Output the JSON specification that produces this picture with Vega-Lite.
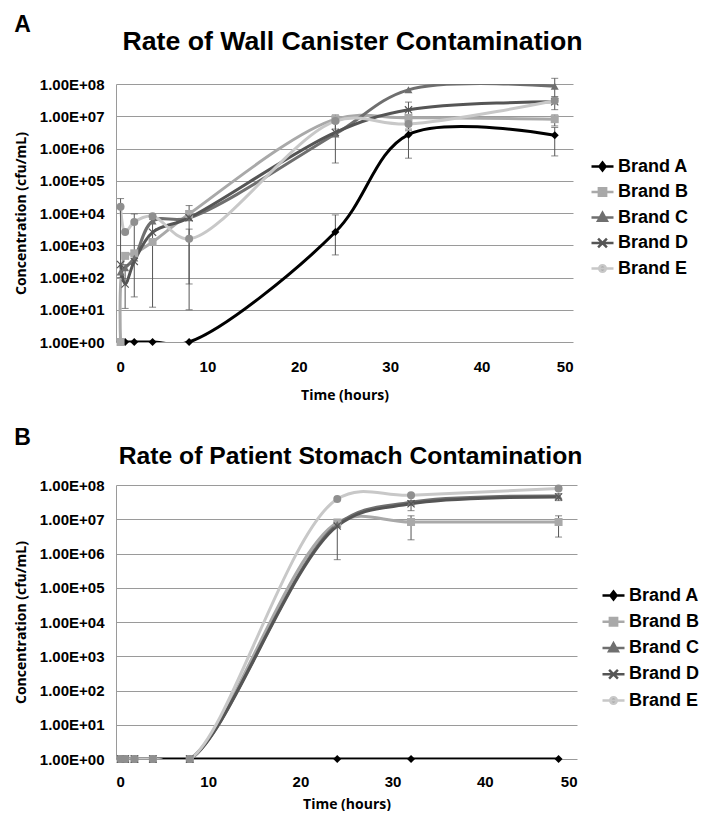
{
  "$schema": "https://vega.github.io/schema/vega-lite/v6.json",
  "background": "white",
  "padding": {"left": 14, "top": 14, "right": 0, "bottom": 0},
  "config": {
    "font": "Liberation Sans",
    "view": {"stroke": null},
    "axis": {
      "labelFont": "Liberation Sans",
      "labelFontWeight": "bold",
      "labelFontSize": 15,
      "labelColor": "#000000",
      "titleFont": "Open Sans",
      "titleFontWeight": "bold",
      "titleFontSize": 14,
      "titleColor": "#000000",
      "ticks": false
    },
    "legend": {
      "labelFont": "Liberation Sans",
      "labelFontWeight": "bold",
      "labelFontSize": 18,
      "labelColor": "#000000",
      "symbolSize": 484,
      "symbolStrokeWidth": 2.5,
      "labelOffset": 3,
      "padding": 0
    }
  },
  "datasets": {
    "wall": [
      {"brand": "Brand A", "t": 0.5, "v": 1},
      {"brand": "Brand A", "t": 1, "v": 1},
      {"brand": "Brand A", "t": 2, "v": 1},
      {"brand": "Brand A", "t": 4, "v": 1},
      {"brand": "Brand A", "t": 8, "v": 1},
      {"brand": "Brand A", "t": 24, "v": 2570, "lo": 501, "hi": 8710},
      {"brand": "Brand A", "t": 32, "v": 2690000, "lo": 501000, "hi": 3550000},
      {"brand": "Brand A", "t": 48, "v": 2570000, "lo": 589000, "hi": 4470000},
      {"brand": "Brand B", "t": 0.5, "v": 1},
      {"brand": "Brand B", "t": 1, "v": 468},
      {"brand": "Brand B", "t": 2, "v": 562},
      {"brand": "Brand B", "t": 4, "v": 1259, "lo": 12, "hi": 6310},
      {"brand": "Brand B", "t": 8, "v": 9333, "lo": 10, "hi": 17000},
      {"brand": "Brand B", "t": 24, "v": 8130000, "lo": 4000000, "hi": 11000000},
      {"brand": "Brand B", "t": 32, "v": 8910000},
      {"brand": "Brand B", "t": 48, "v": 8130000, "lo": 5000000, "hi": 11000000},
      {"brand": "Brand C", "t": 0.5, "v": 148},
      {"brand": "Brand C", "t": 1, "v": 200},
      {"brand": "Brand C", "t": 2, "v": 398},
      {"brand": "Brand C", "t": 4, "v": 5623},
      {"brand": "Brand C", "t": 8, "v": 7079},
      {"brand": "Brand C", "t": 24, "v": 2820000, "lo": 355000, "hi": 6300000},
      {"brand": "Brand C", "t": 32, "v": 66000000},
      {"brand": "Brand C", "t": 48, "v": 85000000, "lo": 40000000, "hi": 150000000},
      {"brand": "Brand D", "t": 0.5, "v": 251},
      {"brand": "Brand D", "t": 1, "v": 63, "lo": 11, "hi": 251},
      {"brand": "Brand D", "t": 2, "v": 316, "lo": 25, "hi": 9333},
      {"brand": "Brand D", "t": 4, "v": 2512},
      {"brand": "Brand D", "t": 8, "v": 7079},
      {"brand": "Brand D", "t": 24, "v": 3160000},
      {"brand": "Brand D", "t": 32, "v": 15800000, "lo": 4000000, "hi": 27500000},
      {"brand": "Brand D", "t": 48, "v": 28200000, "lo": 16000000, "hi": 40000000},
      {"brand": "Brand E", "t": 0.5, "v": 15488, "lo": 100, "hi": 28000},
      {"brand": "Brand E", "t": 1, "v": 2570},
      {"brand": "Brand E", "t": 2, "v": 5248},
      {"brand": "Brand E", "t": 4, "v": 7943},
      {"brand": "Brand E", "t": 8, "v": 1585, "lo": 63, "hi": 3162},
      {"brand": "Brand E", "t": 24, "v": 7080000},
      {"brand": "Brand E", "t": 32, "v": 5750000},
      {"brand": "Brand E", "t": 48, "v": 30200000}
    ],
    "stomach": [
      {"brand": "Brand A", "t": 0.5, "v": 1},
      {"brand": "Brand A", "t": 1, "v": 1},
      {"brand": "Brand A", "t": 2, "v": 1},
      {"brand": "Brand A", "t": 4, "v": 1},
      {"brand": "Brand A", "t": 8, "v": 1},
      {"brand": "Brand A", "t": 24, "v": 1},
      {"brand": "Brand A", "t": 32, "v": 1},
      {"brand": "Brand A", "t": 48, "v": 1},
      {"brand": "Brand B", "t": 0.5, "v": 1},
      {"brand": "Brand B", "t": 1, "v": 1},
      {"brand": "Brand B", "t": 2, "v": 1},
      {"brand": "Brand B", "t": 4, "v": 1},
      {"brand": "Brand B", "t": 8, "v": 1},
      {"brand": "Brand B", "t": 24, "v": 7940000},
      {"brand": "Brand B", "t": 32, "v": 8320000, "lo": 2510000, "hi": 12600000},
      {"brand": "Brand B", "t": 48, "v": 8320000, "lo": 3020000, "hi": 12600000},
      {"brand": "Brand C", "t": 0.5, "v": 1},
      {"brand": "Brand C", "t": 1, "v": 1},
      {"brand": "Brand C", "t": 2, "v": 1},
      {"brand": "Brand C", "t": 4, "v": 1},
      {"brand": "Brand C", "t": 8, "v": 1},
      {"brand": "Brand C", "t": 24, "v": 7080000},
      {"brand": "Brand C", "t": 32, "v": 31600000},
      {"brand": "Brand C", "t": 48, "v": 47900000},
      {"brand": "Brand D", "t": 0.5, "v": 1},
      {"brand": "Brand D", "t": 1, "v": 1},
      {"brand": "Brand D", "t": 2, "v": 1},
      {"brand": "Brand D", "t": 4, "v": 1},
      {"brand": "Brand D", "t": 8, "v": 1},
      {"brand": "Brand D", "t": 24, "v": 6310000, "lo": 660000, "hi": 10000000},
      {"brand": "Brand D", "t": 32, "v": 28200000, "lo": 17800000, "hi": 35000000},
      {"brand": "Brand D", "t": 48, "v": 44700000, "lo": 35000000, "hi": 56000000},
      {"brand": "Brand E", "t": 0.5, "v": 1},
      {"brand": "Brand E", "t": 1, "v": 1},
      {"brand": "Brand E", "t": 2, "v": 1},
      {"brand": "Brand E", "t": 4, "v": 1},
      {"brand": "Brand E", "t": 8, "v": 1},
      {"brand": "Brand E", "t": 24, "v": 38900000},
      {"brand": "Brand E", "t": 32, "v": 50100000},
      {"brand": "Brand E", "t": 48, "v": 79400000}
    ]
  },
  "spacing": 25,
  "resolve": {
    "scale": {"x": "independent", "y": "independent", "fill": "independent", "stroke": "independent", "shape": "independent"},
    "legend": {"fill": "independent", "stroke": "independent", "shape": "independent"}
  },
  "vconcat": [
    {
      "title": {"text": "A", "anchor": "start", "fontSize": 23, "fontWeight": "bold", "font": "Liberation Sans", "offset": -8},
      "resolve": {
        "scale": {"fill": "independent", "stroke": "independent", "shape": "independent"},
        "legend": {"fill": "independent", "stroke": "independent", "shape": "independent"}
      },
      "vconcat": [
        {
          "title": {"text": "Rate of Wall Canister Contamination", "anchor": "middle", "frame": "group", "fontSize": 26.7, "fontWeight": "bold", "font": "Liberation Sans", "offset": 21, "dx": 8},
          "width": 457,
          "height": 258,
          "data": {"name": "wall"},
          "resolve": {
            "scale": {"fill": "independent", "stroke": "independent", "shape": "independent"},
            "legend": {"fill": "independent", "stroke": "independent", "shape": "independent"}
          },
          "layer": [
            {
              "mark": {"type": "line", "interpolate": "catmull-rom", "strokeWidth": 3, "clip": true},
              "encoding": {
                "x": {"field": "t", "type": "quantitative", "title": "Time (hours)", "scale": {"domain": [0, 50], "nice": false},
                      "axis": {"values": [0, 10, 20, 30, 40, 50], "grid": false, "domain": false, "labelPadding": 17, "titlePadding": 14}},
                "y": {"field": "v", "type": "quantitative", "title": "Concentration (cfu/mL)", "scale": {"type": "log", "domain": [1, 100000000], "nice": false},
                      "axis": {"values": [1, 10, 100, 1000, 10000, 100000, 1000000, 10000000, 100000000],
                               "labelExpr": "'1.00E+0' + round(log(datum.value)/LN10)", "grid": true, "gridColor": "#9a9a9a", "domainColor": "#9a9a9a", "labelPadding": 12, "titlePadding": 11}},
                "stroke": {"field": "brand", "type": "nominal", "scale": {"domain": ["Brand A", "Brand B", "Brand C", "Brand D", "Brand E"], "range": ["#000000", "#a9a9a9", "#6f6f6f", "#555555", "#c8c8c8"]}, "legend": null},
                "order": {"field": "t", "type": "quantitative"}
              }
            },
            {
              "transform": [{"filter": "isValid(datum.lo)"}],
              "mark": {"type": "errorbar", "ticks": {"size": 7, "thickness": 1}, "color": "#555555", "thickness": 1},
              "encoding": {
                "x": {"field": "t", "type": "quantitative", "title": "Time (hours)"},
                "y": {"field": "lo", "type": "quantitative", "title": "Concentration (cfu/mL)"},
                "y2": {"field": "hi"}
              }
            },
            {
              "mark": {"type": "point", "filled": true, "size": 64, "opacity": 1, "strokeWidth": 0},
              "encoding": {
                "x": {"field": "t", "type": "quantitative", "title": "Time (hours)"},
                "y": {"field": "v", "type": "quantitative", "title": "Concentration (cfu/mL)"},
                "fill": {"field": "brand", "type": "nominal", "scale": {"domain": ["Brand A", "Brand B", "Brand C", "Brand D", "Brand E"], "range": ["#000000", "#a9a9a9", "#6f6f6f", "#555555", "#8f8f8f"]}, "legend": null},
                "shape": {"field": "brand", "type": "nominal", "scale": {"domain": ["Brand A", "Brand B", "Brand C", "Brand D", "Brand E"], "range": ["diamond", "square", "triangle-up", "M-1,-0.8L-0.8,-1L0,-0.2L0.8,-1L1,-0.8L0.2,0L1,0.8L0.8,1L0,0.2L-0.8,1L-1,0.8L-0.2,0Z", "circle"]}, "legend": null}
              }
            },
            {
              "transform": [{"filter": "datum.t < 0"}],
              "mark": {"type": "point", "filled": true, "opacity": 1, "strokeWidth": 2.5},
              "encoding": {
                "fill": {"field": "brand", "type": "nominal", "title": null, "scale": {"domain": ["Brand A", "Brand B", "Brand C", "Brand D", "Brand E"], "range": ["#000000", "#a9a9a9", "#6f6f6f", "#555555", "#8f8f8f"]},
                         "legend": {"orient": "none", "legendX": 474, "legendY": 70, "rowPadding": 3.5}},
                "stroke": {"field": "brand", "type": "nominal", "title": null, "scale": {"domain": ["Brand A", "Brand B", "Brand C", "Brand D", "Brand E"], "range": ["#000000", "#a9a9a9", "#6f6f6f", "#555555", "#c8c8c8"]},
                         "legend": {"orient": "none", "legendX": 474, "legendY": 70, "rowPadding": 3.5}},
                "shape": {"field": "brand", "type": "nominal", "title": null, "scale": {"domain": ["Brand A", "Brand B", "Brand C", "Brand D", "Brand E"], "range": [
                  "M-1,0L1,0M0,-0.36L0.28,0L0,0.36L-0.28,0Z",
                  "M-1,0L1,0M-0.33,-0.33L0.33,-0.33L0.33,0.33L-0.33,0.33Z",
                  "M-1,0L1,0M0,-0.42L0.4,0.3L-0.4,0.3Z",
                  "M-1,0L1,0M-0.4,-0.4L0.4,0.4M-0.4,0.4L0.4,-0.4",
                  "M-1,0L1,0M-0.3,0A0.3,0.3,0,1,0,0.3,0A0.3,0.3,0,1,0,-0.3,0Z"]},
                         "legend": {"orient": "none", "legendX": 474, "legendY": 70, "rowPadding": 3.5}}
              }
            }
          ]
        }
      ]
    },
    {
      "title": {"text": "B", "anchor": "start", "fontSize": 23, "fontWeight": "bold", "font": "Liberation Sans", "offset": -6},
      "resolve": {
        "scale": {"fill": "independent", "stroke": "independent", "shape": "independent"},
        "legend": {"fill": "independent", "stroke": "independent", "shape": "independent"}
      },
      "vconcat": [
        {
          "title": {"text": "Rate of Patient Stomach Contamination", "anchor": "middle", "frame": "group", "fontSize": 24.7, "fontWeight": "bold", "font": "Liberation Sans", "offset": 9, "dx": 4},
          "width": 461,
          "height": 274,
          "data": {"name": "stomach"},
          "resolve": {
            "scale": {"fill": "independent", "stroke": "independent", "shape": "independent"},
            "legend": {"fill": "independent", "stroke": "independent", "shape": "independent"}
          },
          "layer": [
            {
              "mark": {"type": "line", "interpolate": "catmull-rom", "strokeWidth": 3, "clip": true},
              "encoding": {
                "x": {"field": "t", "type": "quantitative", "title": "Time (hours)", "scale": {"domain": [0, 50], "nice": false},
                      "axis": {"values": [0, 10, 20, 30, 40, 50], "grid": false, "domain": false, "labelPadding": 15, "titlePadding": 8}},
                "y": {"field": "v", "type": "quantitative", "title": "Concentration (cfu/mL)", "scale": {"type": "log", "domain": [1, 100000000], "nice": false},
                      "axis": {"values": [1, 10, 100, 1000, 10000, 100000, 1000000, 10000000, 100000000],
                               "labelExpr": "'1.00E+0' + round(log(datum.value)/LN10)", "grid": true, "gridColor": "#9a9a9a", "domainColor": "#9a9a9a", "labelPadding": 12, "titlePadding": 11}},
                "stroke": {"field": "brand", "type": "nominal", "scale": {"domain": ["Brand A", "Brand B", "Brand C", "Brand D", "Brand E"], "range": ["#000000", "#a9a9a9", "#6f6f6f", "#555555", "#c8c8c8"]}, "legend": null},
                "order": {"field": "t", "type": "quantitative"}
              }
            },
            {
              "transform": [{"filter": "isValid(datum.lo)"}],
              "mark": {"type": "errorbar", "ticks": {"size": 7, "thickness": 1}, "color": "#555555", "thickness": 1},
              "encoding": {
                "x": {"field": "t", "type": "quantitative", "title": "Time (hours)"},
                "y": {"field": "lo", "type": "quantitative", "title": "Concentration (cfu/mL)"},
                "y2": {"field": "hi"}
              }
            },
            {
              "mark": {"type": "point", "filled": true, "size": 64, "opacity": 1, "strokeWidth": 0},
              "encoding": {
                "x": {"field": "t", "type": "quantitative", "title": "Time (hours)"},
                "y": {"field": "v", "type": "quantitative", "title": "Concentration (cfu/mL)"},
                "fill": {"field": "brand", "type": "nominal", "scale": {"domain": ["Brand A", "Brand B", "Brand C", "Brand D", "Brand E"], "range": ["#000000", "#a9a9a9", "#6f6f6f", "#555555", "#8f8f8f"]}, "legend": null},
                "shape": {"field": "brand", "type": "nominal", "scale": {"domain": ["Brand A", "Brand B", "Brand C", "Brand D", "Brand E"], "range": ["diamond", "square", "triangle-up", "M-1,-0.8L-0.8,-1L0,-0.2L0.8,-1L1,-0.8L0.2,0L1,0.8L0.8,1L0,0.2L-0.8,1L-1,0.8L-0.2,0Z", "circle"]}, "legend": null}
              }
            },
            {
              "transform": [{"filter": "datum.t < 0"}],
              "mark": {"type": "point", "filled": true, "opacity": 1, "strokeWidth": 2.5},
              "encoding": {
                "fill": {"field": "brand", "type": "nominal", "title": null, "scale": {"domain": ["Brand A", "Brand B", "Brand C", "Brand D", "Brand E"], "range": ["#000000", "#a9a9a9", "#6f6f6f", "#555555", "#8f8f8f"]},
                         "legend": {"orient": "none", "legendX": 485, "legendY": 98, "rowPadding": 4.25}},
                "stroke": {"field": "brand", "type": "nominal", "title": null, "scale": {"domain": ["Brand A", "Brand B", "Brand C", "Brand D", "Brand E"], "range": ["#000000", "#a9a9a9", "#6f6f6f", "#555555", "#c8c8c8"]},
                         "legend": {"orient": "none", "legendX": 485, "legendY": 98, "rowPadding": 4.25}},
                "shape": {"field": "brand", "type": "nominal", "title": null, "scale": {"domain": ["Brand A", "Brand B", "Brand C", "Brand D", "Brand E"], "range": [
                  "M-1,0L1,0M0,-0.36L0.28,0L0,0.36L-0.28,0Z",
                  "M-1,0L1,0M-0.33,-0.33L0.33,-0.33L0.33,0.33L-0.33,0.33Z",
                  "M-1,0L1,0M0,-0.42L0.4,0.3L-0.4,0.3Z",
                  "M-1,0L1,0M-0.4,-0.4L0.4,0.4M-0.4,0.4L0.4,-0.4",
                  "M-1,0L1,0M-0.3,0A0.3,0.3,0,1,0,0.3,0A0.3,0.3,0,1,0,-0.3,0Z"]},
                         "legend": {"orient": "none", "legendX": 485, "legendY": 98, "rowPadding": 4.25}}
              }
            }
          ]
        }
      ]
    }
  ]
}
